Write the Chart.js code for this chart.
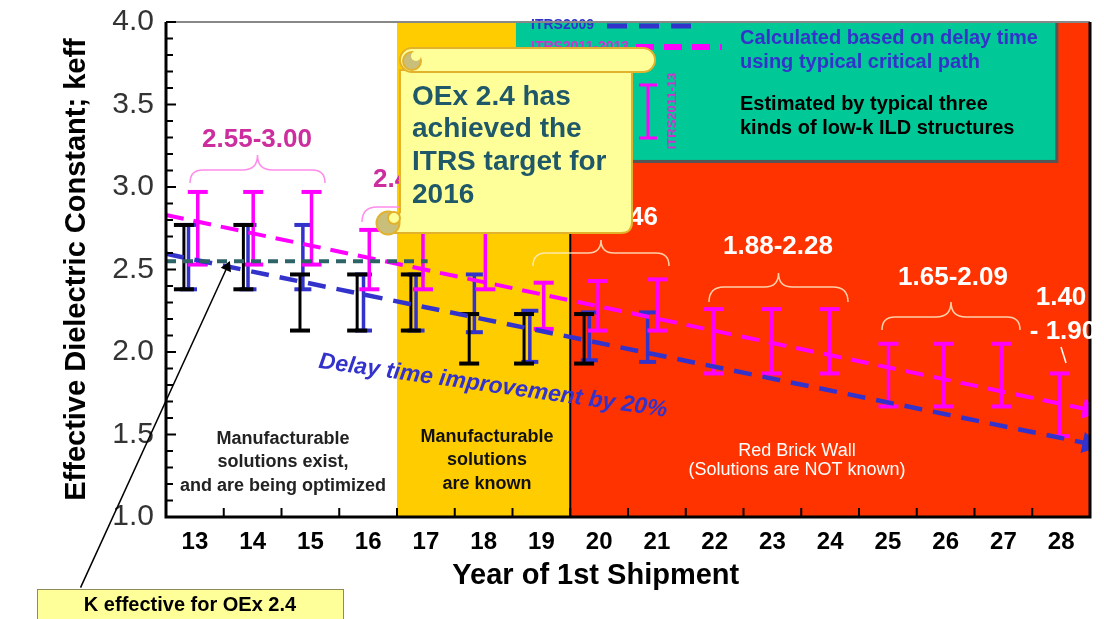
<!DOCTYPE html>
<html><head><meta charset="utf-8">
<script src="https://cdn.jsdelivr.net/npm/chart.js@4.4.0/dist/chart.umd.min.js"></script>
<style>html,body{margin:0;padding:0;background:#fff;overflow:hidden;}#wrap{width:1104px;height:619px;position:relative;}canvas{display:block;}</style>
</head><body><div id="wrap"><canvas id="c"></canvas></div>
<script>
const FONT = '"Liberation Sans", Arial, Helvetica, sans-serif';

// Categories (year of 1st shipment, 20xx)
const years = [13,14,15,16,17,18,19,20,21,22,23,24,25,26,27,28];
const yearLabels = ['13','14','15','16','17','18','19','20','21','22','23','24','25','26','27','28'];
const yTickValues = [1.0,1.5,2.0,2.5,3.0,3.5,4.0];

// ITRS2011-13 keff ranges (magenta)
const itrs2011X    = [13.05,14.01,15.02,16.02,16.95,18.03,19.04,19.98,21.01,21.98,22.99,23.99,25.01,25.96,26.97,27.97];
const itrs2011Low  = [2.53,2.53,2.53,2.38,2.38,2.38,2.14,2.13,2.13,1.87,1.87,1.87,1.67,1.67,1.67,1.49];
const itrs2011High = [2.97,2.97,2.97,2.74,2.74,2.74,2.42,2.43,2.44,2.26,2.26,2.26,2.05,2.05,2.05,1.87];

// ITRS2009 keff ranges (blue)
const itrs2009X    = [12.89,13.92,14.87,15.92,16.83,17.84,18.80,19.83,20.84];
const itrs2009Low  = [2.38,2.38,2.38,2.13,2.13,2.12,1.94,1.95,1.94];
const itrs2009High = [2.77,2.77,2.77,2.47,2.47,2.47,2.25,2.24,2.24];

// Estimated by typical low-k ILD structures (black)
const estX    = [12.81,13.84,14.82,15.81,16.74,17.75,18.70,19.74];
const estLow  = [2.38,2.38,2.13,2.13,2.13,1.93,1.93,1.93];
const estHigh = [2.77,2.77,2.47,2.47,2.47,2.23,2.23,2.23];

// Trend lines
const trend2011X = [12.5, 28.48];
const trend2011Y = [2.83, 1.65];
const trend2009X = [12.5, 28.48];
const trend2009Y = [2.595, 1.444];
// K effective for OEx 2.4
const oexX = [12.5, 17.03];
const oexY = [2.55, 2.55];
const arrowX = [11.02, 13.56];
const arrowY = [0.572, 2.515];

// Zones
const zoneBounds = [12.5, 16.5, 19.5, 28.5];
const greenBox = {x1: 18.56, x2: 27.9, y1: 4.0, y2: 3.164};

function errorBarPoints(xs, lows, highs) {
  const pts = [];
  xs.forEach((x, i) => { pts.push({x, y: lows[i]}, {x, y: highs[i]}, {x, y: null}); });
  return pts;
}
function pairs(xs, ys) { return xs.map((x, i) => ({x, y: ys[i]})); }

function errDataset(label, data, color, stemW, capR, capW, order) {
  return {
    label, data, showLine: true, spanGaps: false, borderColor: color, borderWidth: stemW,
    pointStyle: 'line', pointRadius: c => (c.raw && c.raw.y != null) ? capR : 0, pointHoverRadius: 0,
    pointBorderColor: color, pointBorderWidth: capW, order
  };
}

function brace(ctx, xl, xr, yEnd, yMid, yTip) {
  const xm = (xl + xr) / 2, r = yEnd - yMid, rt = yMid - yTip;
  ctx.beginPath();
  ctx.moveTo(xl, yEnd);
  ctx.quadraticCurveTo(xl, yMid, xl + r, yMid);
  ctx.lineTo(xm - rt, yMid);
  ctx.quadraticCurveTo(xm, yMid, xm, yTip);
  ctx.quadraticCurveTo(xm, yMid, xm + rt, yMid);
  ctx.lineTo(xr - r, yMid);
  ctx.quadraticCurveTo(xr, yMid, xr, yEnd);
  ctx.stroke();
}
function rrect(ctx, x, y, w, h, r) {
  ctx.beginPath();
  ctx.moveTo(x + r, y); ctx.lineTo(x + w - r, y); ctx.arcTo(x + w, y, x + w, y + r, r);
  ctx.lineTo(x + w, y + h - r); ctx.arcTo(x + w, y + h, x + w - r, y + h, r);
  ctx.lineTo(x + r, y + h); ctx.arcTo(x, y + h, x, y + h - r, r);
  ctx.lineTo(x, y + r); ctx.arcTo(x, y, x + r, y, r); ctx.closePath();
}
function txt(ctx, s, x, y, font, color, align) {
  ctx.font = font; ctx.fillStyle = color; ctx.textAlign = align || 'center'; ctx.textBaseline = 'middle';
  ctx.fillText(s, x, y);
}

const annot = {
  id: 'annot',
  beforeDatasetsDraw(chart) {
    const {ctx, chartArea: a, scales: {x, y}} = chart;
    ctx.save();
    const b = zoneBounds.map(v => x.getPixelForValue(v));
    ctx.fillStyle = '#FFFFFF'; ctx.fillRect(b[0], a.top, b[1] - b[0], a.bottom - a.top);
    ctx.fillStyle = '#FFCC00'; ctx.fillRect(b[1], a.top, b[2] - b[1], a.bottom - a.top);
    ctx.fillStyle = '#FF3300'; ctx.fillRect(b[2], a.top, b[3] - b[2], a.bottom - a.top);
    ctx.strokeStyle = '#000'; ctx.lineWidth = 2;
    ctx.beginPath(); ctx.moveTo(b[2], a.top); ctx.lineTo(b[2], a.bottom); ctx.stroke();
    // green legend box
    const gx1 = x.getPixelForValue(greenBox.x1), gx2 = x.getPixelForValue(greenBox.x2);
    const gy1 = y.getPixelForValue(greenBox.y1), gy2 = y.getPixelForValue(greenBox.y2);
    ctx.fillStyle = '#555'; ctx.fillRect(gx1 + 3, gy1, gx2 - gx1, gy2 - gy1 + 3);
    ctx.fillStyle = '#00C896'; ctx.fillRect(gx1, gy1, gx2 - gx1, gy2 - gy1);
    txt(ctx, 'ITRS2009', 531, 25, `bold 14px ${FONT}`, '#3333CC', 'left');
    txt(ctx, 'ITRS2011-2013', 531, 47, `bold 14px ${FONT}`, '#CC33CC', 'left');
    ctx.setLineDash([20, 12]); ctx.lineWidth = 5; ctx.strokeStyle = '#3333CC';
    ctx.beginPath(); ctx.moveTo(607, 26); ctx.lineTo(700, 26); ctx.stroke();
    ctx.setLineDash([18, 10]); ctx.lineWidth = 6; ctx.strokeStyle = '#FF00FF';
    ctx.beginPath(); ctx.moveTo(636, 47); ctx.lineTo(722, 47); ctx.stroke();
    ctx.setLineDash([]);
    ctx.lineWidth = 3; ctx.strokeStyle = '#FF00FF';
    ctx.beginPath();
    ctx.moveTo(648, 85); ctx.lineTo(648, 138);
    ctx.moveTo(639, 85); ctx.lineTo(657, 85);
    ctx.moveTo(639, 138); ctx.lineTo(657, 138);
    ctx.stroke();
    ctx.save(); ctx.translate(672, 111); ctx.rotate(-Math.PI / 2);
    txt(ctx, 'ITRS2011-13', 0, 0, `bold 13px ${FONT}`, '#CC33CC', 'center');
    ctx.restore();
    txt(ctx, 'Calculated based on delay time', 740, 38, `bold 20px ${FONT}`, '#3333CC', 'left');
    txt(ctx, 'using typical critical path', 740, 62, `bold 20px ${FONT}`, '#3333CC', 'left');
    txt(ctx, 'Estimated by typical three', 740, 104, `bold 20px ${FONT}`, '#000', 'left');
    txt(ctx, 'kinds of low-k ILD structures', 740, 128, `bold 20px ${FONT}`, '#000', 'left');
    ctx.restore();
  },
  afterDatasetsDraw(chart) {
    const {ctx, chartArea: a, scales: {x, y}} = chart;
    ctx.save();
    // axes frame
    ctx.strokeStyle = '#888'; ctx.lineWidth = 2;
    ctx.beginPath(); ctx.moveTo(a.left, a.top); ctx.lineTo(a.right, a.top); ctx.stroke();
    ctx.strokeStyle = '#000'; ctx.lineWidth = 3;
    ctx.beginPath(); ctx.moveTo(a.left, a.top); ctx.lineTo(a.left, a.bottom); ctx.lineTo(a.right, a.bottom); ctx.lineTo(a.right, a.top); ctx.stroke();
    ctx.lineWidth = 2;
    ctx.beginPath();
    for (let k = 10; k <= 40; k++) {
      const py = y.getPixelForValue(k / 10);
      const len = (k % 5 === 0) ? 10 : 7;
      ctx.moveTo(a.left, py); ctx.lineTo(a.left + len, py);
    }
    for (let k = 13; k <= 27; k++) {
      const px = x.getPixelForValue(k + 0.5);
      ctx.moveTo(px, a.bottom); ctx.lineTo(px, a.bottom - 9);
    }
    ctx.stroke();

    // braces
    ctx.lineWidth = 1.5; ctx.strokeStyle = '#FF8CEB';
    brace(ctx, 190, 325, 183, 170, 155);
    brace(ctx, 362, 498, 222, 207, 193);
    ctx.strokeStyle = 'rgba(255,236,200,0.85)';
    brace(ctx, 533, 669, 266, 253, 240);
    brace(ctx, 709, 848, 302, 287, 273);
    brace(ctx, 882, 1020, 330, 317, 302);

    // range labels
    const lf = `bold 26px ${FONT}`;
    txt(ctx, '2.55-3.00', 257, 140, lf, '#CC2E9E');
    txt(ctx, '2.40-2.78', 428, 180, lf, '#CC2E9E');
    txt(ctx, '2.13-2.46', 603, 218, lf, '#FFFFFF');
    txt(ctx, '1.88-2.28', 778, 247, lf, '#FFFFFF');
    txt(ctx, '1.65-2.09', 953, 278, lf, '#FFFFFF');
    txt(ctx, '1.40', 1061, 298, lf, '#FFFFFF');
    txt(ctx, '- 1.90', 1063, 332, lf, '#FFFFFF');
    ctx.strokeStyle = '#FFFFFF'; ctx.lineWidth = 1.5;
    ctx.beginPath(); ctx.moveTo(1061, 347); ctx.lineTo(1066, 363); ctx.stroke();

    // zone texts
    const zf = `bold 18px ${FONT}`;
    txt(ctx, 'Manufacturable', 283, 439, zf, '#222');
    txt(ctx, 'solutions exist,', 283, 462, zf, '#222');
    txt(ctx, 'and are being optimized', 283, 486, zf, '#222');
    txt(ctx, 'Manufacturable', 487, 437, zf, '#111');
    txt(ctx, 'solutions', 487, 460, zf, '#111');
    txt(ctx, 'are known', 487, 484, zf, '#111');
    txt(ctx, 'Red Brick Wall', 797, 451, `18px ${FONT}`, '#FFFFFF');
    txt(ctx, '(Solutions are NOT known)', 797, 470, `18px ${FONT}`, '#FFFFFF');

    // delay text
    ctx.save(); ctx.translate(493, 386); ctx.rotate(8 * Math.PI / 180);
    txt(ctx, 'Delay time improvement by 20%', 0, 0, `italic bold 23px ${FONT}`, '#3333CC');
    ctx.restore();

    // callout scroll
    const cf = '#FFFF99', cs = '#E2B22C', ol = '#C9BF7A';
    ctx.lineWidth = 2; ctx.strokeStyle = cs; ctx.fillStyle = cf;
    ctx.beginPath();
    ctx.moveTo(400, 70); ctx.lineTo(632, 70); ctx.lineTo(632, 222);
    ctx.quadraticCurveTo(632, 233, 621, 233); ctx.lineTo(390, 233); ctx.lineTo(400, 212); ctx.closePath();
    ctx.fill(); ctx.stroke();
    rrect(ctx, 400, 48, 255, 24, 12); ctx.fillStyle = cf; ctx.fill(); ctx.stroke();
    ctx.beginPath(); ctx.arc(412, 61, 9, 0, Math.PI * 2); ctx.fillStyle = ol; ctx.fill(); ctx.stroke();
    ctx.beginPath(); ctx.arc(416, 56, 5, 0, Math.PI * 2); ctx.fillStyle = cf; ctx.fill();
    ctx.beginPath(); ctx.arc(388, 223, 11.5, 0, Math.PI * 2); ctx.fillStyle = ol; ctx.fill(); ctx.stroke();
    ctx.beginPath(); ctx.arc(394, 218, 6, 0, Math.PI * 2); ctx.fillStyle = cf; ctx.fill(); ctx.stroke();
    const tf = `bold 28px ${FONT}`, tc = '#1F5869';
    txt(ctx, 'OEx 2.4 has', 412, 97, tf, tc, 'left');
    txt(ctx, 'achieved the', 412, 129, tf, tc, 'left');
    txt(ctx, 'ITRS target for', 412, 162, tf, tc, 'left');
    txt(ctx, '2016', 412, 195, tf, tc, 'left');

    // K effective box
    ctx.fillStyle = '#FFFF99'; ctx.fillRect(37, 589, 306, 36);
    ctx.strokeStyle = '#8C8C5A'; ctx.lineWidth = 1; ctx.strokeRect(37.5, 589.5, 306, 36);
    txt(ctx, 'K effective for OEx 2.4', 190, 605, `bold 20px ${FONT}`, '#000');
    ctx.restore();
  }
};

const datasets = [
  { label: 'K effective for OEx 2.4', data: pairs(oexX, oexY), showLine: true, borderColor: '#2E6468',
    borderWidth: 4, borderDash: [10, 7], pointRadius: 0, order: 0 },
  { label: 'arrow', data: pairs(arrowX, arrowY), showLine: true, borderColor: '#000', borderWidth: 1.5,
    pointStyle: 'triangle', pointRadius: c => c.dataIndex === 1 ? 5 : 0, pointRotation: 24.6,
    pointBackgroundColor: '#000', pointBorderColor: '#000', clip: false, order: 1 },
  { label: 'ITRS2011-2013 trend', data: pairs(trend2011X, trend2011Y), showLine: true, borderColor: '#FF00FF',
    borderWidth: 4, borderDash: [18, 10], pointStyle: 'triangle', pointRadius: c => c.dataIndex === 1 ? 8 : 0,
    pointRotation: 101.8, pointBackgroundColor: '#FF00FF', pointBorderColor: '#FF00FF', order: 2 },
  { label: 'ITRS2009 trend', data: pairs(trend2009X, trend2009Y), showLine: true, borderColor: '#3333CC',
    borderWidth: 4.5, borderDash: [18, 11], pointStyle: 'triangle', pointRadius: c => c.dataIndex === 1 ? 8 : 0,
    pointRotation: 101.6, pointBackgroundColor: '#3333CC', pointBorderColor: '#3333CC', order: 3 },
  errDataset('Estimated', errorBarPoints(estX, estLow, estHigh), '#000000', 3, 10, 4, 4),
  errDataset('ITRS2011-13', errorBarPoints(itrs2011X, itrs2011Low, itrs2011High), '#FF00FF', 3.5, 10, 4, 5),
  errDataset('ITRS2009', errorBarPoints(itrs2009X, itrs2009Low, itrs2009High), '#3333CC', 3.5, 8.5, 4, 6)
];

new Chart(document.getElementById('c'), {
  type: 'scatter',
  data: { datasets },
  plugins: [annot],
  options: {
    responsive: true, maintainAspectRatio: false, animation: false,
    layout: { padding: { top: 18, right: 6, bottom: 0, left: 0 } },
    plugins: { legend: { display: false }, tooltip: { enabled: false } },
    scales: {
      x: {
        type: 'linear', min: 12.5, max: 28.5,
        afterBuildTicks: s => { s.ticks = years.map(v => ({ value: v })); },
        afterFit: s => { s.height = 102; s.paddingLeft = 0; s.paddingRight = 0; },
        grid: { display: false }, border: { display: false },
        ticks: { autoSkip: false, maxRotation: 0, padding: 3, color: '#000',
          font: { family: FONT, size: 24, weight: 'bold' },
          callback: v => { const i = years.indexOf(v); return i >= 0 ? yearLabels[i] : ''; } },
        title: { display: true, text: 'Year of 1st Shipment' + ' '.repeat(8), color: '#000',
          font: { family: FONT, size: 29, weight: 'bold' }, padding: { top: 0, bottom: 26 } }
      },
      y: {
        type: 'linear', min: 1, max: 4,
        afterBuildTicks: s => { s.ticks = yTickValues.map(v => ({ value: v })); },
        afterFit: s => { s.width = 166; },
        grid: { display: false }, border: { display: false },
        ticks: { padding: 4, color: '#333', font: { family: FONT, size: 30 },
          callback: v => Number(v).toFixed(1) },
        title: { display: true, text: 'Effective Dielectric Constant; keff', color: '#000',
          font: { family: FONT, size: 29, weight: 'bold' }, padding: { top: 60, bottom: 0 } }
      }
    }
  }
});
</script></body></html>
